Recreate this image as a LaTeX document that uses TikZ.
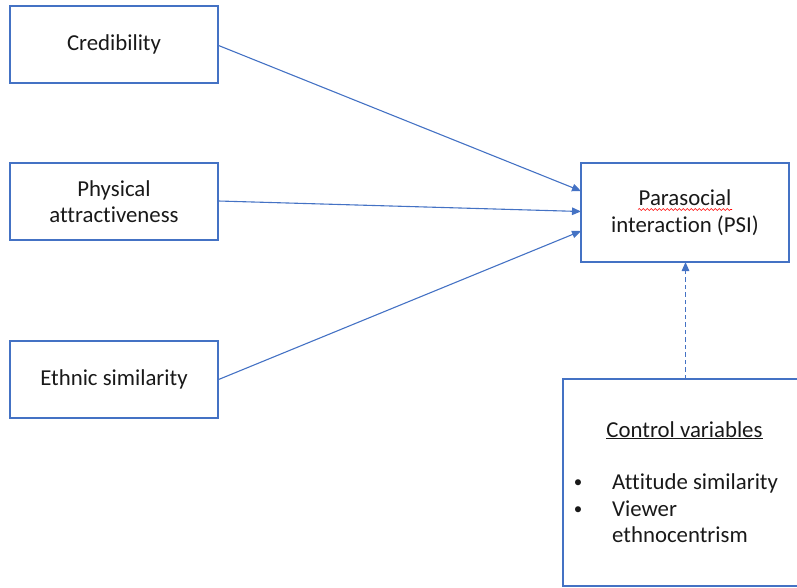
\documentclass[tikz,border=0pt]{standalone}
\usepackage{fontspec}
\setmainfont[Ligatures={NoCommon}]{Carlito}
\usetikzlibrary{arrows.meta,decorations.pathmorphing}
\definecolor{officeblue}{RGB}{68,114,196}
\definecolor{txt}{RGB}{25,25,25}
\begin{document}
\begin{tikzpicture}[x=1pt,y=-1pt,
  box/.style={draw=officeblue,line width=1.2pt,rectangle,inner sep=0pt,align=center,
    text=txt,font=\fontsize{22.8}{26.5}\selectfont},
  conn/.style={draw=officeblue,line width=1.1pt,-{Triangle[length=9pt,width=7.5pt]}},
  lbl/.style={text=txt,font=\fontsize{22.8}{26.5}\selectfont,inner sep=0pt}]
\useasboundingbox (0,0) rectangle (797,587);
\clip (0,0) rectangle (797,587);
\node[box,minimum width=208pt,minimum height=77pt] (cred) at (114,44.5) {Credibility};
\node[box,minimum width=208pt,minimum height=77pt] (phys) at (114,201.5) {Physical\\attractiveness};
\node[box,minimum width=208pt,minimum height=77pt] (eth) at (114,379.5) {Ethnic similarity};
\node[box,minimum width=208pt,minimum height=99pt] (psi) at (685,212.5) {Parasocial\\interaction (PSI)};
\node[box,minimum width=243pt,minimum height=207pt] (ctrl) at (684.5,482.5) {};
\coordinate (t1) at (581,191);
\coordinate (t2) at (581,211.5);
\coordinate (t3) at (581,231);
\coordinate (c1) at (685.5,379);
\coordinate (t4) at (685.5,262);
\draw[conn] (cred.east |- 0,45.5) -- (t1);
\draw[conn] (phys.east |- 0,201) -- (t2);
\draw[conn] (eth.east |- 0,379.5) -- (t3);
\draw[conn,line width=1.4pt,dash pattern=on 4.5pt off 3pt] (c1) -- (t4);
\draw[red,line width=0.6pt,decorate,decoration={snake,amplitude=0.9pt,segment length=4pt}] (638,209.5) -- (732,209.5);
\node[lbl,anchor=base] (ch) at (684.5,437) {\underline{Control variables}};
\node[lbl,anchor=base,font=\fontsize{17}{20}\selectfont] (b1) at (578,487) {•};
\node[lbl,anchor=base,font=\fontsize{17}{20}\selectfont] (b2) at (578,514) {•};
\node[lbl,anchor=base west] (i1) at (612,489) {Attitude similarity};
\node[lbl,anchor=base west] (i2) at (612,516) {Viewer};
\node[lbl,anchor=base west] (i3) at (612,542) {ethnocentrism};
\end{tikzpicture}
\end{document}
